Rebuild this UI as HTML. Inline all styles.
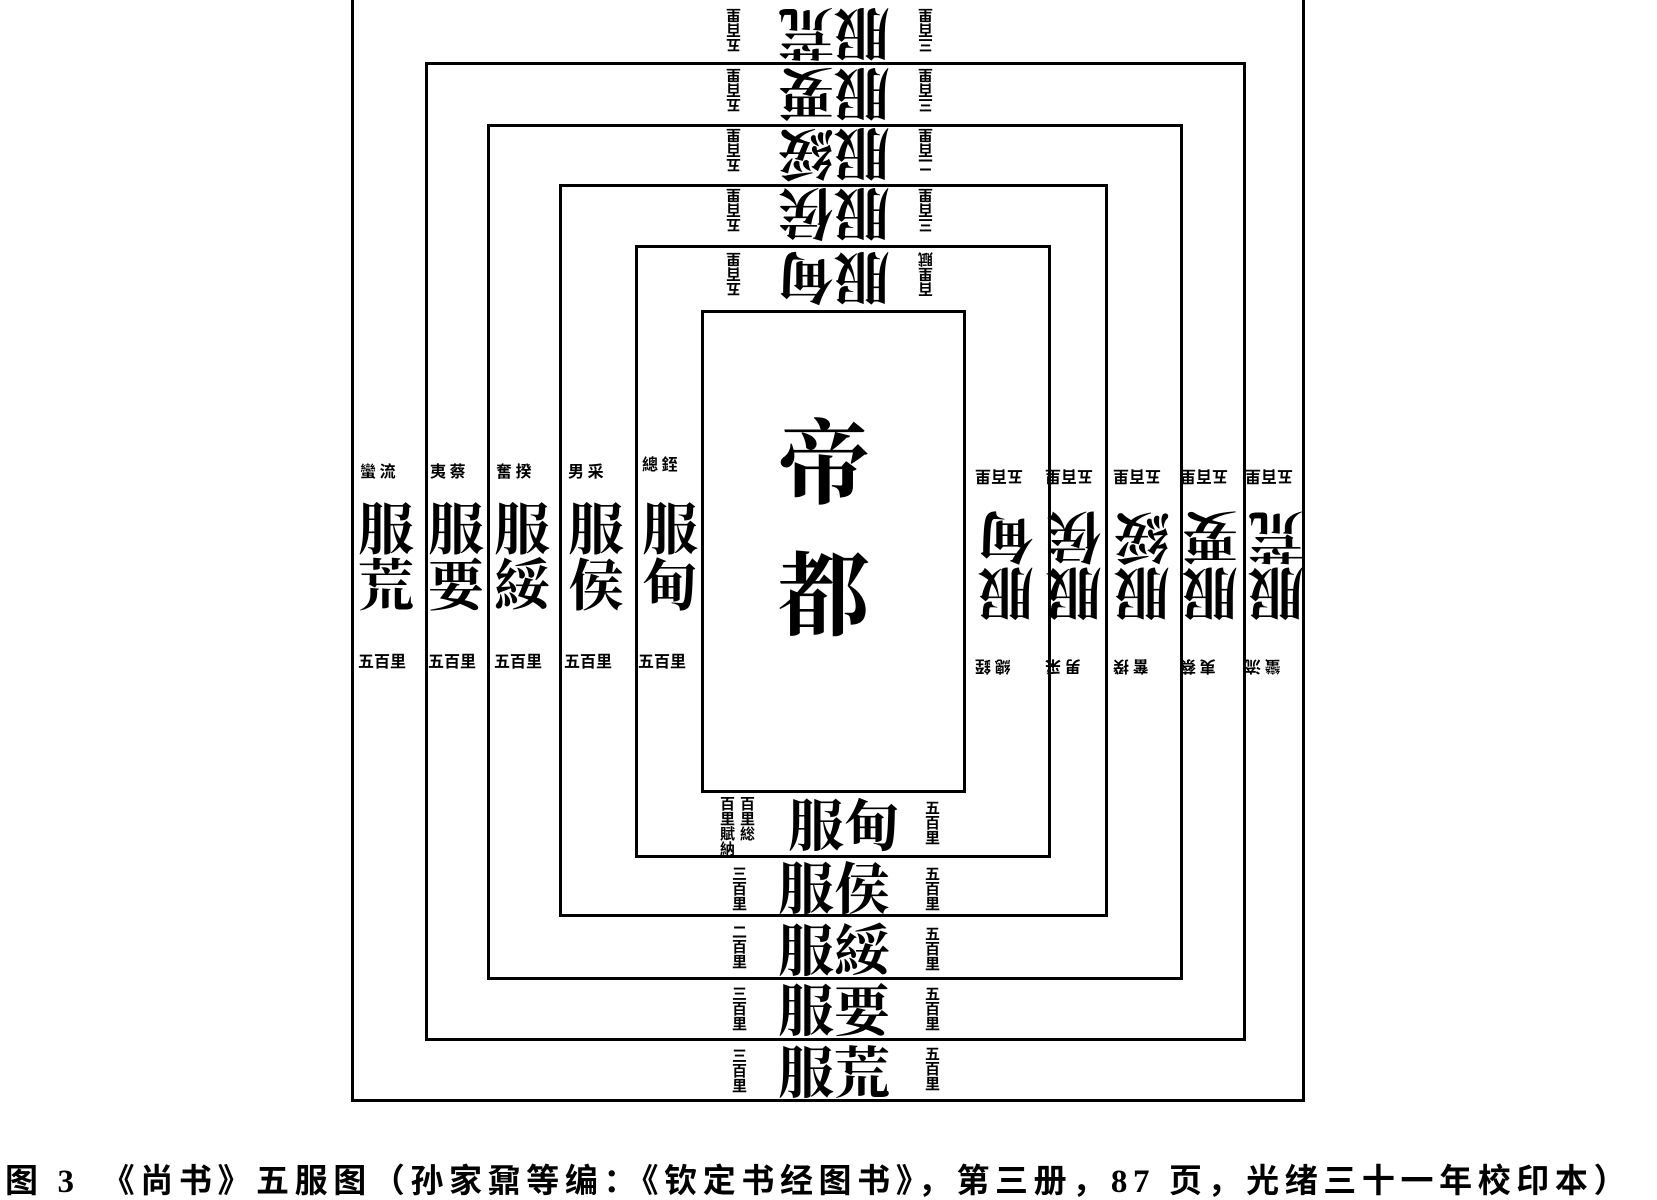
<!DOCTYPE html>
<html><head><meta charset="utf-8"><style>
body{margin:0;background:#fff;}
#c{position:relative;width:1657px;height:1200px;overflow:hidden;background:#fff;font-family:"Liberation Serif","Noto Serif CJK SC","Noto Sans CJK SC",serif;color:#000;}
.r{position:absolute;border:3px solid #000;box-sizing:border-box;}
.t{position:absolute;font-size:56px;line-height:1;white-space:nowrap;font-family:"Noto Serif CJK SC","Noto Sans CJK SC",serif;font-weight:bold;}
.v{writing-mode:vertical-rl;}
.f{transform:rotate(180deg);}
.s{position:absolute;font-size:15px;line-height:1;writing-mode:vertical-rl;font-family:"Noto Sans CJK SC",sans-serif;font-weight:bold;}
.h{writing-mode:horizontal-tb;font-size:16px;}
.cap{position:absolute;left:5px;top:1154px;font-size:33px;font-weight:bold;font-family:"Liberation Serif","Noto Sans CJK SC",sans-serif;white-space:nowrap;letter-spacing:5.6px;}
</style></head><body><div id="c">
<div class="r" style="left:351px;top:-3px;width:954px;height:1105px"></div>
<div class="r" style="left:425px;top:62px;width:821px;height:979px"></div>
<div class="r" style="left:487px;top:124px;width:696px;height:856px"></div>
<div class="r" style="left:559px;top:184px;width:549px;height:733px"></div>
<div class="r" style="left:635px;top:245px;width:416px;height:613px"></div>
<div class="r" style="left:701px;top:310px;width:265px;height:483px;background:#fff"></div>

<div class="t v" style="left:778px;top:415px;font-size:92px;letter-spacing:40px">帝都</div>

<div class="t" style="left:788px;top:795px">服甸</div>
<div class="t" style="left:778px;top:858px">服侯</div>
<div class="t" style="left:778px;top:920px">服綏</div>
<div class="t" style="left:778px;top:980px">服要</div>
<div class="t" style="left:778px;top:1042px">服荒</div>
<div class="s" style="left:925px;top:800px">五百里</div>
<div class="s" style="left:925px;top:866px">五百里</div>
<div class="s" style="left:925px;top:926px">五百里</div>
<div class="s" style="left:925px;top:986px">五百里</div>
<div class="s" style="left:925px;top:1046px">五百里</div>
<div class="s" style="left:720px;top:796px">百里賦納</div>
<div class="s" style="left:740px;top:796px">百里総</div>
<div class="s" style="left:732px;top:866px">三百里</div>
<div class="s" style="left:732px;top:924px">二百里</div>
<div class="s" style="left:732px;top:986px">三百里</div>
<div class="s" style="left:732px;top:1048px">三百里</div>

<div class="t f" style="left:778px;top:8px">服荒</div>
<div class="t f" style="left:778px;top:68px">服要</div>
<div class="t f" style="left:778px;top:128px">服綏</div>
<div class="t f" style="left:778px;top:188px">服侯</div>
<div class="t f" style="left:778px;top:252px">服甸</div>
<div class="s f" style="left:726px;top:8px">五百里</div>
<div class="s f" style="left:726px;top:68px">五百里</div>
<div class="s f" style="left:726px;top:128px">五百里</div>
<div class="s f" style="left:726px;top:188px">五百里</div>
<div class="s f" style="left:726px;top:252px">五百里</div>
<div class="s f" style="left:918px;top:8px">三百里</div>
<div class="s f" style="left:918px;top:68px">三百里</div>
<div class="s f" style="left:918px;top:128px">二百里</div>
<div class="s f" style="left:918px;top:188px">三百里</div>
<div class="s f" style="left:918px;top:252px">百里賦</div>

<div class="t v" style="left:358px;top:500px">服荒</div>
<div class="t v" style="left:428px;top:500px">服要</div>
<div class="t v" style="left:494px;top:500px">服綏</div>
<div class="t v" style="left:568px;top:500px">服侯</div>
<div class="t v" style="left:642px;top:500px">服甸</div>
<div class="s h" style="left:360px;top:462px">蠻 流</div>
<div class="s h" style="left:430px;top:462px">夷 蔡</div>
<div class="s h" style="left:496px;top:462px">奮 揆</div>
<div class="s h" style="left:568px;top:462px">男 采</div>
<div class="s h" style="left:642px;top:455px">總 銍</div>
<div class="s h" style="left:358px;top:652px">五百里</div>
<div class="s h" style="left:428px;top:652px">五百里</div>
<div class="s h" style="left:494px;top:652px">五百里</div>
<div class="s h" style="left:564px;top:652px">五百里</div>
<div class="s h" style="left:638px;top:652px">五百里</div>

<div class="t v f" style="left:978px;top:510px">服甸</div>
<div class="t v f" style="left:1046px;top:510px">服侯</div>
<div class="t v f" style="left:1114px;top:510px">服綏</div>
<div class="t v f" style="left:1182px;top:510px">服要</div>
<div class="t v f" style="left:1248px;top:510px">服荒</div>
<div class="s h f" style="left:975px;top:470px">五百里</div>
<div class="s h f" style="left:1045px;top:470px">五百里</div>
<div class="s h f" style="left:1113px;top:470px">五百里</div>
<div class="s h f" style="left:1180px;top:470px">五百里</div>
<div class="s h f" style="left:1245px;top:470px">五百里</div>
<div class="s h f" style="left:975px;top:660px">總 銍</div>
<div class="s h f" style="left:1045px;top:660px">男 采</div>
<div class="s h f" style="left:1113px;top:660px">奮 揆</div>
<div class="s h f" style="left:1180px;top:660px">夷 蔡</div>
<div class="s h f" style="left:1245px;top:660px">蠻 流</div>

<div class="cap">图 3　《尚书》五服图（孙家鼐等编：《钦定书经图书》，第三册，87 页，光绪三十一年校印本）</div>
</div></body></html>
